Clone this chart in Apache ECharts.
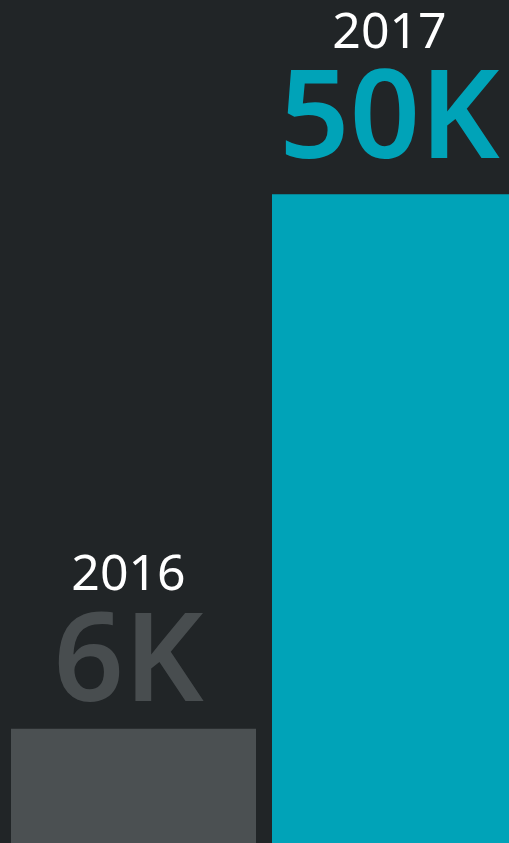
<!DOCTYPE html>
<html>
<head>
<meta charset="UTF-8">
<script src="https://cdn.jsdelivr.net/npm/echarts@6/dist/echarts.min.js"></script>
<style>
  html, body { margin: 0; padding: 0; background: #212527; }
  #chart { width: 509px; height: 843px; }
</style>
</head>
<body>
<div id="chart"></div>
<script>
// data
const years = ['2016', '2017'];
const values = [6, 50];          // thousands
const valueLabels = ['6K', '50K'];
const barColors = ['#4b5052', '#00a3b8'];
const textColors = ['#484d4f', '#00a3b8'];
const labelGaps = [3, 11];

const chart = echarts.init(document.getElementById('chart'));

chart.setOption({
  backgroundColor: '#212527',
  animation: false,
  grid: { left: 3, top: 0, bottom: 0, width: 522, outerBoundsMode: 'none' },
  xAxis: {
    type: 'category',
    data: years,
    show: false
  },
  yAxis: {
    type: 'value',
    min: -3.4,
    max: 66,
    startValue: -3.4,
    show: false
  },
  series: [{
    type: 'bar',
    barWidth: 245,
    data: values.map((v, i) => ({
      value: v,
      itemStyle: { color: barColors[i] },
      label: {
        distance: labelGaps[i],
        rich: {
          v: { color: textColors[i] }
        }
      }
    })),
    label: {
      show: true,
      position: 'top',
      offset: [-5, 0],
      formatter: p => '{y|' + years[p.dataIndex] + '}\n{v|' + valueLabels[p.dataIndex] + '}',
      fontFamily: 'Noto Sans',
      rich: {
        y: { fontFamily: 'Noto Sans', fontSize: 50, color: '#ffffff', lineHeight: 60 },
        v: { fontFamily: 'Noto Sans', fontWeight: 600, fontSize: 123, lineHeight: 120 }
      }
    }
  }]
});
</script>
</body>
</html>
